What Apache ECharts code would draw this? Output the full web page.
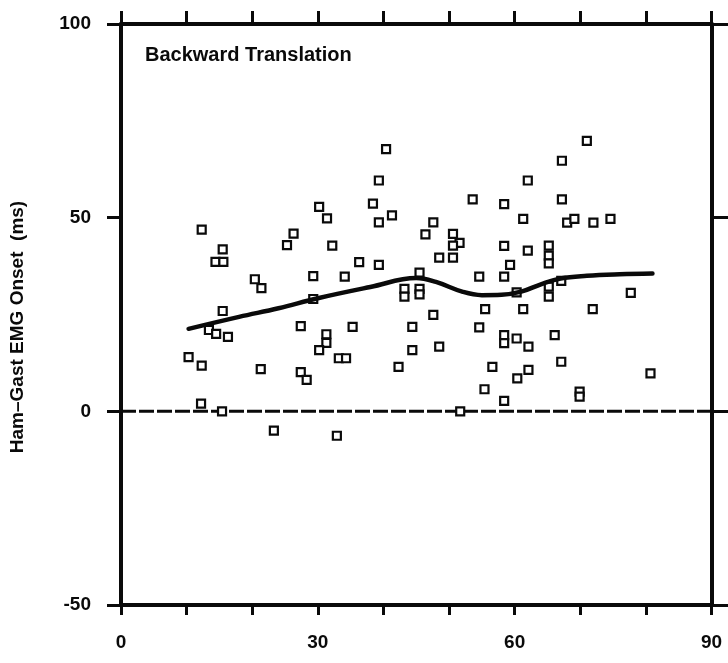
<!DOCTYPE html>
<html>
<head>
<meta charset="utf-8">
<script src="https://cdn.jsdelivr.net/npm/echarts@6/dist/echarts.min.js"></script>
<style>
  html, body { margin: 0; padding: 0; background: #fff; }
  #chart { width: 728px; height: 663px; }
</style>
</head>
<body>
<div id="chart"></div>
<script>
// Onset latency of hamstring relative to gastrocnemius EMG, backward platform translations
const onsetPoints = [
  [10.3, 14.0], [12.3, 46.9], [12.3, 11.8], [12.2, 2.0], [13.4, 21.0], [14.5, 20.0],
  [14.4, 38.6], [15.6, 38.6], [15.5, 41.8], [15.5, 25.9], [16.3, 19.2], [15.4, 0.0],
  [20.4, 34.1], [21.4, 31.8], [21.3, 10.9], [23.3, -5.0], [25.3, 42.9], [26.3, 45.9],
  [27.4, 22.0], [27.4, 10.1], [28.3, 8.1], [29.3, 34.9], [29.3, 29.0], [30.2, 52.8],
  [31.4, 49.8], [32.2, 42.8], [31.3, 19.9], [31.3, 17.7], [30.2, 15.8], [32.9, -6.3],
  [33.2, 13.7], [34.3, 13.7], [34.1, 34.8], [35.3, 21.8], [36.3, 38.5], [38.4, 53.6],
  [39.3, 59.6], [40.4, 67.7], [41.3, 50.6], [39.3, 48.8], [39.3, 37.8], [42.3, 11.5],
  [43.2, 31.6], [43.2, 29.6], [44.4, 21.8], [44.4, 15.8], [45.5, 35.8], [45.5, 31.6],
  [45.5, 30.2], [46.4, 45.7], [47.6, 48.8], [47.6, 24.9], [48.5, 39.7], [50.6, 39.7],
  [48.5, 16.7], [50.6, 45.8], [51.6, 43.5], [50.6, 42.8], [51.7, 0.0], [53.6, 54.7],
  [54.6, 34.8], [54.6, 21.7], [55.5, 26.4], [56.6, 11.5], [55.4, 5.7], [58.4, 53.5],
  [58.4, 42.7], [58.4, 34.8], [58.4, 19.7], [58.4, 17.6], [58.4, 2.7], [59.3, 37.8],
  [60.3, 18.8], [60.4, 8.5], [61.3, 49.7], [61.3, 26.4], [62.0, 59.6], [62.0, 41.5],
  [62.1, 16.7], [62.1, 10.7], [60.3, 30.7], [65.2, 42.8], [65.2, 40.2], [65.2, 38.2],
  [65.2, 32.2], [65.2, 29.6], [66.1, 19.7], [67.1, 12.8], [67.2, 64.7], [67.2, 54.7],
  [68.0, 48.7], [69.1, 49.7], [67.1, 33.7], [69.9, 5.1], [69.9, 3.8], [71.0, 69.8],
  [72.0, 48.7], [71.9, 26.4], [74.6, 49.7], [77.7, 30.6], [80.7, 9.8]
];

// Smoothed trend through the onset data
const trendCurve = [
  [10.3, 21.3], [18, 24.4], [24, 26.6], [30, 29.2], [38, 32.1], [45, 34.4],
  [48, 33.4], [52, 30.9], [55, 30.0], [58, 30.1], [61, 30.9], [64, 32.8],
  [67, 34.3], [71, 35.0], [76, 35.4], [81, 35.6]
];

// Zero-latency reference
const zeroLine = [[0, 0], [90, 0]];

const xLabelValues = [0, 30, 60, 90];
const yTicks = { min: -50, max: 100, step: 50 };
const xTicks = { min: 0, max: 90, step: 10 };

const titleText = 'Backward Translation';
const yAxisTitle = 'Ham\u2013Gast EMG Onset  (ms)';

const FONT = '"Liberation Sans", Arial, Helvetica, sans-serif';
const INK = '#0a0a0a';

const chart = echarts.init(document.getElementById('chart'));

const frameLine = { show: true, onZero: false, lineStyle: { color: INK, width: 4 } };

chart.setOption({
  animation: false,
  backgroundColor: '#ffffff',
  grid: { left: 121, right: 16.5, top: 24, bottom: 58 },
  xAxis: [
    {
      type: 'value', position: 'bottom',
      min: xTicks.min, max: xTicks.max, interval: xTicks.step,
      axisLine: frameLine,
      axisTick: { show: true, inside: false, length: 10, lineStyle: { color: INK, width: 3 } },
      splitLine: { show: false },
      axisLabel: {
        margin: 28, color: INK, fontFamily: FONT, fontWeight: 'bold', fontSize: 19,
        formatter: v => (xLabelValues.indexOf(v) >= 0 ? String(v) : '')
      }
    },
    {
      type: 'value', position: 'top',
      min: xTicks.min, max: xTicks.max, interval: xTicks.step,
      axisLine: frameLine,
      axisTick: { show: true, inside: false, length: 13, lineStyle: { color: INK, width: 3 } },
      splitLine: { show: false },
      axisLabel: { show: false }
    }
  ],
  yAxis: [
    {
      type: 'value', position: 'left',
      min: yTicks.min, max: yTicks.max, interval: yTicks.step,
      axisLine: frameLine,
      axisTick: { show: true, inside: false, length: 14, lineStyle: { color: INK, width: 3 } },
      splitLine: { show: false },
      axisLabel: { margin: 30, color: INK, fontFamily: FONT, fontWeight: 'bold', fontSize: 19 }
    },
    {
      type: 'value', position: 'right',
      min: yTicks.min, max: yTicks.max, interval: yTicks.step,
      axisLine: frameLine,
      axisTick: { show: true, inside: false, length: 17, lineStyle: { color: INK, width: 3 } },
      splitLine: { show: false },
      axisLabel: { show: false }
    }
  ],
  graphic: [
    {
      type: 'text', left: 145, top: 45, z: 10,
      style: { text: titleText, font: 'bold 20px ' + FONT, fill: INK }
    },
    {
      type: 'text', x: 18, y: 327, rotation: Math.PI / 2, z: 10,
      style: {
        text: yAxisTitle, font: 'bold 19px ' + FONT, fill: INK,
        align: 'center', verticalAlign: 'middle'
      }
    }
  ],
  series: [
    {
      type: 'line', data: zeroLine, xAxisIndex: 0, yAxisIndex: 0,
      symbol: 'none', silent: true, z: 1,
      lineStyle: { color: INK, width: 3, type: [15, 3] }
    },
    {
      type: 'scatter', data: onsetPoints, xAxisIndex: 0, yAxisIndex: 0,
      symbol: 'rect', symbolSize: 8, z: 2,
      itemStyle: { color: '#ffffff', borderColor: INK, borderWidth: 2.2, opacity: 1 }
    },
    {
      type: 'line', data: trendCurve, xAxisIndex: 0, yAxisIndex: 0,
      symbol: 'none', smooth: 0.4, z: 3,
      lineStyle: { color: INK, width: 4.5, cap: 'round' }
    }
  ]
});
</script>
</body>
</html>
